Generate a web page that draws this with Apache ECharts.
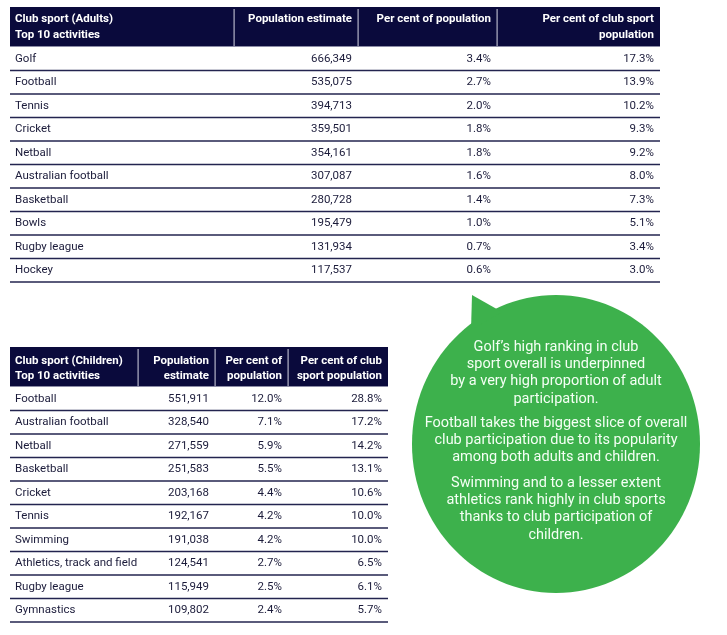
<!DOCTYPE html>
<html>
<head>
<meta charset="utf-8">
<script src="https://cdn.jsdelivr.net/npm/echarts@6/dist/echarts.min.js"></script>
<style>
html,body{margin:0;padding:0;background:#fff;}
#chart{width:727px;height:635px;}
</style>
</head>
<body>
<div id="chart"></div>
<script>
// ---- data ----
const adultSports = ['Golf','Football','Tennis','Cricket','Netball','Australian football','Basketball','Bowls','Rugby league','Hockey'];
const adultPopulation = [666349,535075,394713,359501,354161,307087,280728,195479,131934,117537];
const adultPctPopulation = [3.4,2.7,2.0,1.8,1.8,1.6,1.4,1.0,0.7,0.6];
const adultPctClub = [17.3,13.9,10.2,9.3,9.2,8.0,7.3,5.1,3.4,3.0];
const adultHeaders = ['Club sport (Adults)\nTop 10 activities','Population estimate','Per cent of population','Per cent of club sport\npopulation'];

const childSports = ['Football','Australian football','Netball','Basketball','Cricket','Tennis','Swimming','Athletics, track and field','Rugby league','Gymnastics'];
const childPopulation = [551911,328540,271559,251583,203168,192167,191038,124541,115949,109802];
const childPctPopulation = [12.0,7.1,5.9,5.5,4.4,4.2,4.2,2.7,2.5,2.4];
const childPctClub = [28.8,17.2,14.2,13.1,10.6,10.0,10.0,6.5,6.1,5.7];
const childHeaders = ['Club sport (Children)\nTop 10 activities','Population\nestimate','Per cent of\npopulation','Per cent of club\nsport population'];

const bubbleParagraphs = [
  "Golf\u2019s high ranking in club\nsport overall is underpinned\nby a very high proportion of adult\nparticipation.",
  "Football takes the biggest slice of overall\nclub participation due to its popularity\namong both adults and children.",
  "Swimming and to a lesser extent\nathletics rank highly in club sports\nthanks to club participation of\nchildren."
];

// ---- layout / style ----
const NAVY = '#0a0a3c';
const TEXT = '#1b1b3a';
const LINE = '#23244f';
const FONT = 'Roboto, "Liberation Sans", sans-serif';
const adultLayout = {left:10, headTop:7, headH:40, lineH:16, textTop:11, cols:[234,358,497,660], rows:235};
const childLayout = {left:10, headTop:347, headH:40, lineH:15, textTop:353.5, cols:[138,215,288,388], rows:235};

function fmtPop(v){ return v.toLocaleString('en-US'); }
function fmtPct(v){ return v.toFixed(1) + '%'; }

function makeRender(names, layout){
  return function(params, api){
    const i = api.value(1);
    const c = api.coord([0, i]);
    const h = api.size([0, 1])[1];
    const xs = layout.cols.map(v => api.coord([v - layout.left, i])[0]);
    const x0 = c[0];
    const yc = c[1];
    const font = '11.5px ' + FONT;
    const vals = [fmtPop(api.value(2)), fmtPct(api.value(3)), fmtPct(api.value(4))];
    const children = [
      {type:'text', style:{x:x0 + 5, y:yc, text:names[i], align:'left', verticalAlign:'middle', fill:TEXT, font:font}}
    ];
    vals.forEach((t, k) => {
      children.push({type:'text', style:{x:xs[k + 1] - 6, y:yc, text:t, align:'right', verticalAlign:'middle', fill:TEXT, font:font}});
    });
    children.push({type:'line', shape:{x1:x0, y1:yc + h/2, x2:xs[3], y2:yc + h/2}, style:{stroke:LINE, lineWidth:1.3}});
    return {type:'group', children:children};
  };
}

function headerGraphic(headers, layout){
  const els = [];
  const right = layout.cols[layout.cols.length - 1];
  els.push({type:'rect', shape:{x:layout.left, y:layout.headTop, width:right - layout.left, height:layout.headH}, style:{fill:NAVY}});
  els.push({type:'rect', shape:{x:layout.left, y:layout.headTop + layout.headH - 1, width:right - layout.left, height:1}, style:{fill:'#8c8ca6'}});
  layout.cols.slice(0, 3).forEach(x => {
    els.push({type:'rect', shape:{x:x - 0.5, y:layout.headTop + 2, width:1.2, height:layout.headH - 3}, style:{fill:'#b4b4c8'}});
  });
  headers.forEach((t, k) => {
    const isFirst = k === 0;
    els.push({type:'text', style:{
      x: isFirst ? layout.left + 5 : layout.cols[k] - 6,
      y: layout.textTop,
      text: t,
      align: isFirst ? 'left' : 'right',
      verticalAlign: 'top',
      fill: '#ffffff',
      font: 'bold 11.5px ' + FONT,
      lineHeight: layout.lineH
    }});
  });
  return els;
}

function bubbleGraphic(){
  const els = [];
  const green = '#3db14c';
  els.push({type:'ellipse', shape:{cx:556, cy:444, rx:144, ry:149}, style:{fill:green}});
  els.push({type:'polygon', shape:{points:[[472,295],[471,330],[502,312]]}, style:{fill:green}});
  const tops = [338.5, 414.5, 474.5];
  bubbleParagraphs.forEach((p, k) => {
    els.push({type:'text', style:{x:556, y:tops[k], text:p, align:'center', verticalAlign:'top',
      fill:'#f4fff4', font:'14.5px ' + FONT, lineHeight:17.3}});
  });
  return els;
}

const chart = echarts.init(document.getElementById('chart'), null, {renderer:'canvas'});
const option = {
  animation:false,
  backgroundColor:'#ffffff',
  grid:[
    {left:adultLayout.left, top:adultLayout.headTop + adultLayout.headH, width:adultLayout.cols[3] - adultLayout.left, height:adultLayout.rows},
    {left:childLayout.left, top:childLayout.headTop + childLayout.headH, width:childLayout.cols[3] - childLayout.left, height:childLayout.rows}
  ],
  xAxis:[
    {type:'value', gridIndex:0, min:0, max:adultLayout.cols[3] - adultLayout.left, show:false},
    {type:'value', gridIndex:1, min:0, max:childLayout.cols[3] - childLayout.left, show:false}
  ],
  yAxis:[
    {type:'category', gridIndex:0, data:adultSports, inverse:true, show:false},
    {type:'category', gridIndex:1, data:childSports, inverse:true, show:false}
  ],
  series:[
    {type:'custom', xAxisIndex:0, yAxisIndex:0, encode:{x:0, y:1},
     renderItem:makeRender(adultSports, adultLayout),
     data:adultSports.map((s, i) => [0, i, adultPopulation[i], adultPctPopulation[i], adultPctClub[i]])},
    {type:'custom', xAxisIndex:1, yAxisIndex:1, encode:{x:0, y:1},
     renderItem:makeRender(childSports, childLayout),
     data:childSports.map((s, i) => [0, i, childPopulation[i], childPctPopulation[i], childPctClub[i]])}
  ],
  graphic:[].concat(headerGraphic(adultHeaders, adultLayout), headerGraphic(childHeaders, childLayout), bubbleGraphic())
};
chart.setOption(option);
</script>
</body>
</html>
